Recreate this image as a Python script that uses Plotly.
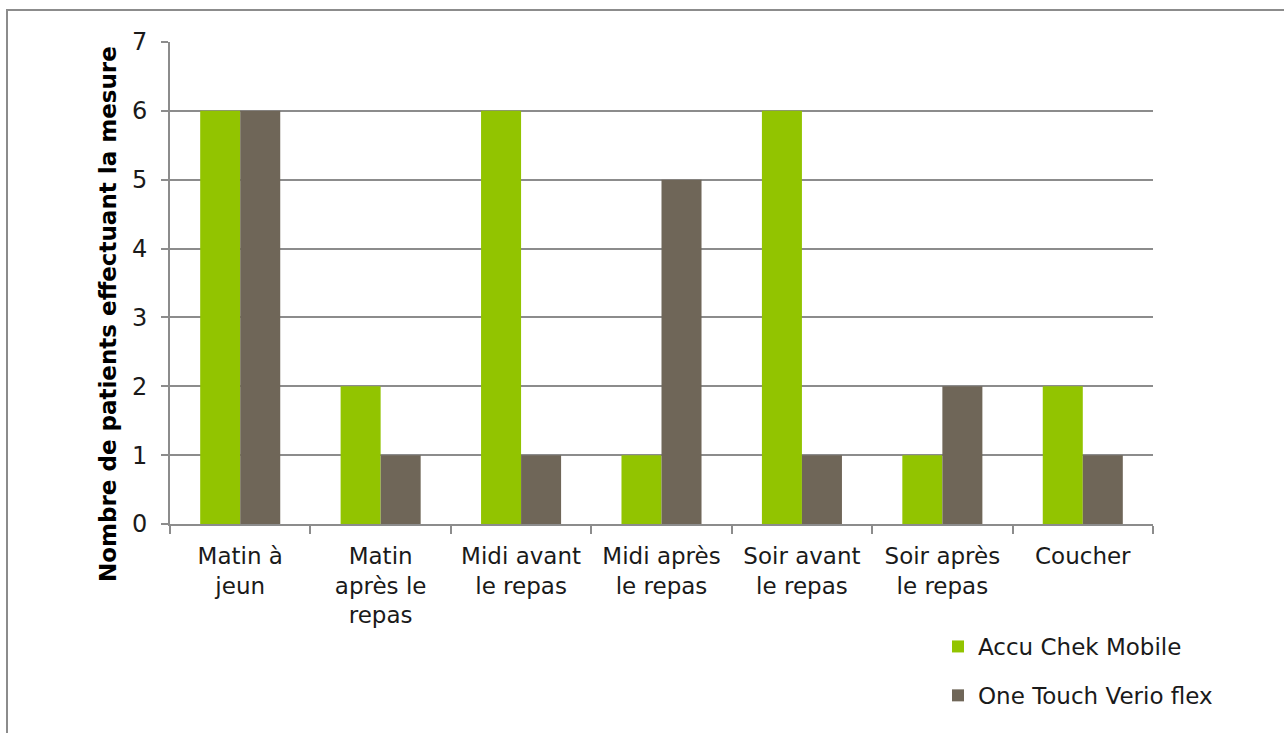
import plotly.graph_objects as go

categories = ["Matin à<br>jeun", "Matin<br>après le<br>repas", "Midi avant<br>le repas",
              "Midi après<br>le repas", "Soir avant<br>le repas", "Soir après<br>le repas", "Coucher"]
accu = [6, 2, 6, 1, 6, 1, 2]
onetouch = [6, 1, 1, 5, 1, 2, 1]
series_names = ["Accu Chek Mobile", "One Touch Verio flex"]
y_title = "Nombre de patients effectuant la mesure"

W, H = 1284, 733
L, R, T, B = 170, 131, 42, 209
pw, ph = W - L - R, H - T - B

def px(x):
    return (x - L) / pw

def py(y):
    return (H - B - y) / ph

font = "DejaVu Sans"

fig = go.Figure()
fig.add_trace(go.Bar(x=categories, y=accu, name=series_names[0], marker_color="#92C400",
                     marker_line_width=0, legendgroup="a"))
fig.add_trace(go.Bar(x=categories, y=onetouch, name=series_names[1], marker_color="#6F6658",
                     marker_line_width=0, legendgroup="b"))

fig.update_layout(
    width=W, height=H,
    margin=dict(l=L, r=R, t=T, b=B),
    paper_bgcolor="white", plot_bgcolor="white",
    barmode="group", bargap=0.43, bargroupgap=0,
    font=dict(family=font, size=24, color="#1a1a1a"),
    showlegend=True,
    legend=dict(x=px(938), y=py(625), xanchor="left", yanchor="top",
                traceorder="grouped", tracegroupgap=16,
                font=dict(size=23, family=font), itemwidth=30,
                bgcolor="rgba(0,0,0,0)"),
    xaxis=dict(showline=True, linecolor="#8c8c8c", linewidth=2,
               ticks="outside", ticklen=8, tickcolor="#8c8c8c", tickwidth=2,
               tickson="boundaries", showgrid=False, ticklabelstandoff=10,
               tickfont=dict(size=23, family=font)),
    yaxis=dict(range=[0, 7], dtick=1, showline=True, linecolor="#8c8c8c", linewidth=2,
               ticks="outside", ticklen=7, tickcolor="#8c8c8c", tickwidth=2,
               showgrid=True, gridcolor="#8c8c8c", gridwidth=2, zeroline=False,
               ticklabelstandoff=9,
               tickfont=dict(size=24, family=font)),
    annotations=[dict(text="<b>" + y_title + "</b>", xref="paper", yref="paper",
                      x=px(108), y=py(314), xanchor="center", yanchor="middle",
                      textangle=-90, showarrow=False,
                      font=dict(size=23, family=font, color="black"))],
    shapes=[dict(type="rect", xref="paper", yref="paper",
                 x0=px(7), x1=px(W + 20), y0=py(H + 20), y1=py(10),
                 line=dict(color="#8c8c8c", width=2), fillcolor="rgba(0,0,0,0)", layer="below")],
)

fig.write_html("out.html", config={"displayModeBar": False},
               post_script="document.body.style.margin='0';")
